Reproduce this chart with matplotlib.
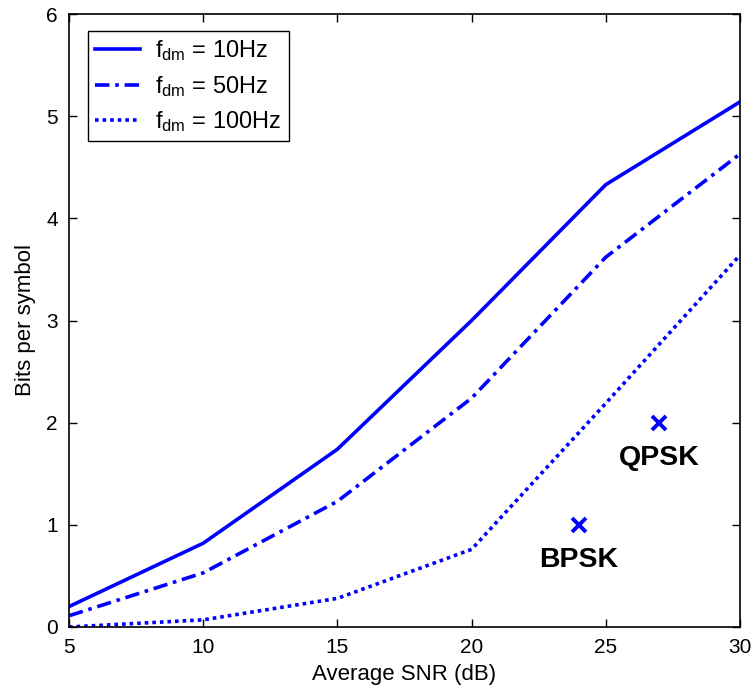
import matplotlib
matplotlib.use("Agg")
import matplotlib.pyplot as plt

plt.rcParams['font.family'] = ['Liberation Sans', 'DejaVu Sans']
plt.rcParams['mathtext.fontset'] = 'custom'
plt.rcParams['mathtext.rm'] = 'Liberation Sans'
plt.rcParams['mathtext.it'] = 'Liberation Sans'

snr = [5, 10, 15, 20, 25, 30]
bits_10hz = [0.20, 0.82, 1.74, 3.00, 4.33, 5.14]
bits_50hz = [0.11, 0.53, 1.23, 2.24, 3.62, 4.63]
bits_100hz = [0.00, 0.07, 0.28, 0.76, 2.19, 3.64]
series_labels = [r'$\mathregular{f_{dm}}$ = 10Hz', r'$\mathregular{f_{dm}}$ = 50Hz', r'$\mathregular{f_{dm}}$ = 100Hz']

mod_names = ['BPSK', 'QPSK']
mod_snr = [24, 27]
mod_bits = [1, 2]

xticks = [5, 10, 15, 20, 25, 30]
yticks = [0, 1, 2, 3, 4, 5, 6]

fig = plt.figure(figsize=(7.56, 7.0), dpi=100)
ax = fig.add_axes([69/756, 1 - 627/700, (740-69)/756, (627-14)/700])

blue = '#0000ff'
ax.plot(snr, bits_10hz, color=blue, lw=2.6, ls='-', label=series_labels[0])
ax.plot(snr, bits_50hz, color=blue, lw=2.6, ls=(0, (4, 1.6, 1, 1.6)), label=series_labels[1])
ax.plot(snr, bits_100hz, color=blue, lw=2.6, ls=(0, (1, 1.1)), label=series_labels[2])

ax.plot(mod_snr, mod_bits, ls='none', marker='x', color=blue, ms=10, mew=2.8)
for name, xs, ys in zip(mod_names, mod_snr, mod_bits):
    ax.text(xs, ys - 0.22, name, ha='center', va='top', fontsize=20.5, fontweight='bold')

ax.set_xlim(5, 30)
ax.set_ylim(0, 6)
ax.set_xticks(xticks)
ax.set_yticks(yticks)
ax.tick_params(direction='in', top=True, right=True, labelsize=15, length=6, width=1, pad=8)
for s in ax.spines.values():
    s.set_linewidth(1.2)
ax.set_xlabel('Average SNR (dB)', fontsize=16, labelpad=5)
ax.set_ylabel('Bits per symbol', fontsize=16, labelpad=7)

leg = ax.legend(loc='upper left', bbox_to_anchor=(0.028, 0.972), borderaxespad=0,
                fontsize=17, fancybox=False,
                framealpha=1, edgecolor='black', handlelength=1.9, borderpad=0.3,
                labelspacing=0.45, handletextpad=0.65)
leg.get_frame().set_linewidth(1.0)

fig.savefig('out.png', dpi=100)
